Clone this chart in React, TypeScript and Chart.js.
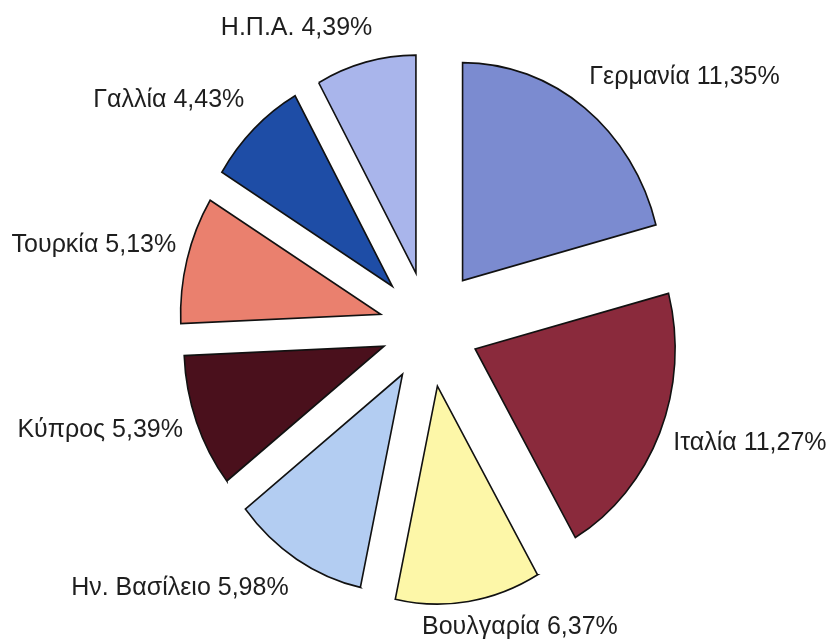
import React, { useEffect, useRef } from "react";
import { Chart, registerables } from "chart.js";

Chart.register(...registerables);

const categories = [
  "Γερμανία",
  "Ιταλία",
  "Βουλγαρία",
  "Ην. Βασίλειο",
  "Κύπρος",
  "Τουρκία",
  "Γαλλία",
  "Η.Π.Α.",
];
const shares = [11.35, 11.27, 6.37, 5.98, 5.39, 5.13, 4.43, 4.39];
const valueLabels = ["11,35%", "11,27%", "6,37%", "5,98%", "5,39%", "5,13%", "4,43%", "4,39%"];
const sliceColors = [
  "#7b8bd0",
  "#8a2a3c",
  "#fdf7a8",
  "#b3cdf2",
  "#4a101c",
  "#ea806e",
  "#1e4da6",
  "#a9b5eb",
];

// explode distance per slice (px), label nudges (px)
const explode = [55, 50, 54, 50, 48, 50, 53, 52];
const labelNudge: [number, number][] = [
  [48, 18],
  [7, -15],
  [38, -37],
  [-69, -28],
  [-10, -16],
  [-6, 2],
  [-25, 18],
  [-47, 29],
];
const verticalStretch = 1.09;

const explodePlugin = {
  id: "explodeSlices",
  afterDatasetsUpdate(chart: any) {
    const meta = chart.getDatasetMeta(0);
    meta.data.forEach((arc: any, i: number) => {
      const mid = (arc.startAngle + arc.endAngle) / 2;
      const d = explode[i] || 0;
      arc.x = arc.x + Math.cos(mid) * d;
      arc.y = arc.y + Math.sin(mid) * d;
    });
  },
  beforeDatasetsDraw(chart: any) {
    const ctx = chart.ctx;
    const cx = (chart.chartArea.left + chart.chartArea.right) / 2;
    const cy = (chart.chartArea.top + chart.chartArea.bottom) / 2;
    ctx.save();
    ctx.translate(cx, cy);
    ctx.scale(1, verticalStretch);
    ctx.translate(-cx, -cy);
  },
  afterDatasetsDraw(chart: any) {
    chart.ctx.restore();
  },
};

const labelPlugin = {
  id: "outsideLabels",
  afterDatasetsDraw(chart: any) {
    const ctx = chart.ctx;
    const meta = chart.getDatasetMeta(0);
    const cx = (chart.chartArea.left + chart.chartArea.right) / 2;
    const cy = (chart.chartArea.top + chart.chartArea.bottom) / 2;
    ctx.save();
    ctx.font = "25px 'Liberation Sans', Arial, sans-serif";
    ctx.fillStyle = "#1e1e1e";
    ctx.textAlign = "center";
    ctx.textBaseline = "middle";
    meta.data.forEach((arc: any, i: number) => {
      const mid = (arc.startAngle + arc.endAngle) / 2;
      const L = 340;
      const x = cx + Math.cos(mid) * L + labelNudge[i][0];
      const y = cy + Math.sin(mid) * L + labelNudge[i][1];
      ctx.fillText(categories[i] + " " + valueLabels[i], x, y);
    });
    ctx.restore();
  },
};

export default function App() {
  const ref = useRef<HTMLCanvasElement | null>(null);
  useEffect(() => {
    if (!ref.current) return;
    const chart = new Chart(ref.current, {
      type: "pie",
      data: {
        labels: categories,
        datasets: [
          {
            data: shares,
            backgroundColor: sliceColors,
            borderColor: "#111111",
            borderWidth: 1.6,
            borderJoinStyle: "miter",
          } as any,
        ],
      },
      options: {
        animation: false,
        responsive: false,
        radius: 200,
        layout: { padding: { left: 24, right: 0, top: 13, bottom: 0 } },
        plugins: {
          legend: { display: false },
          tooltip: { enabled: false },
        },
        events: [],
      } as any,
      plugins: [explodePlugin, labelPlugin],
    });
    return () => chart.destroy();
  }, []);
  return (
    <div style={{ position: "fixed", left: 0, top: 0, width: 834, height: 643, background: "#ffffff" }}>
      <canvas ref={ref} width={834} height={643} style={{ width: 834, height: 643, display: "block" }} />
    </div>
  );
}
